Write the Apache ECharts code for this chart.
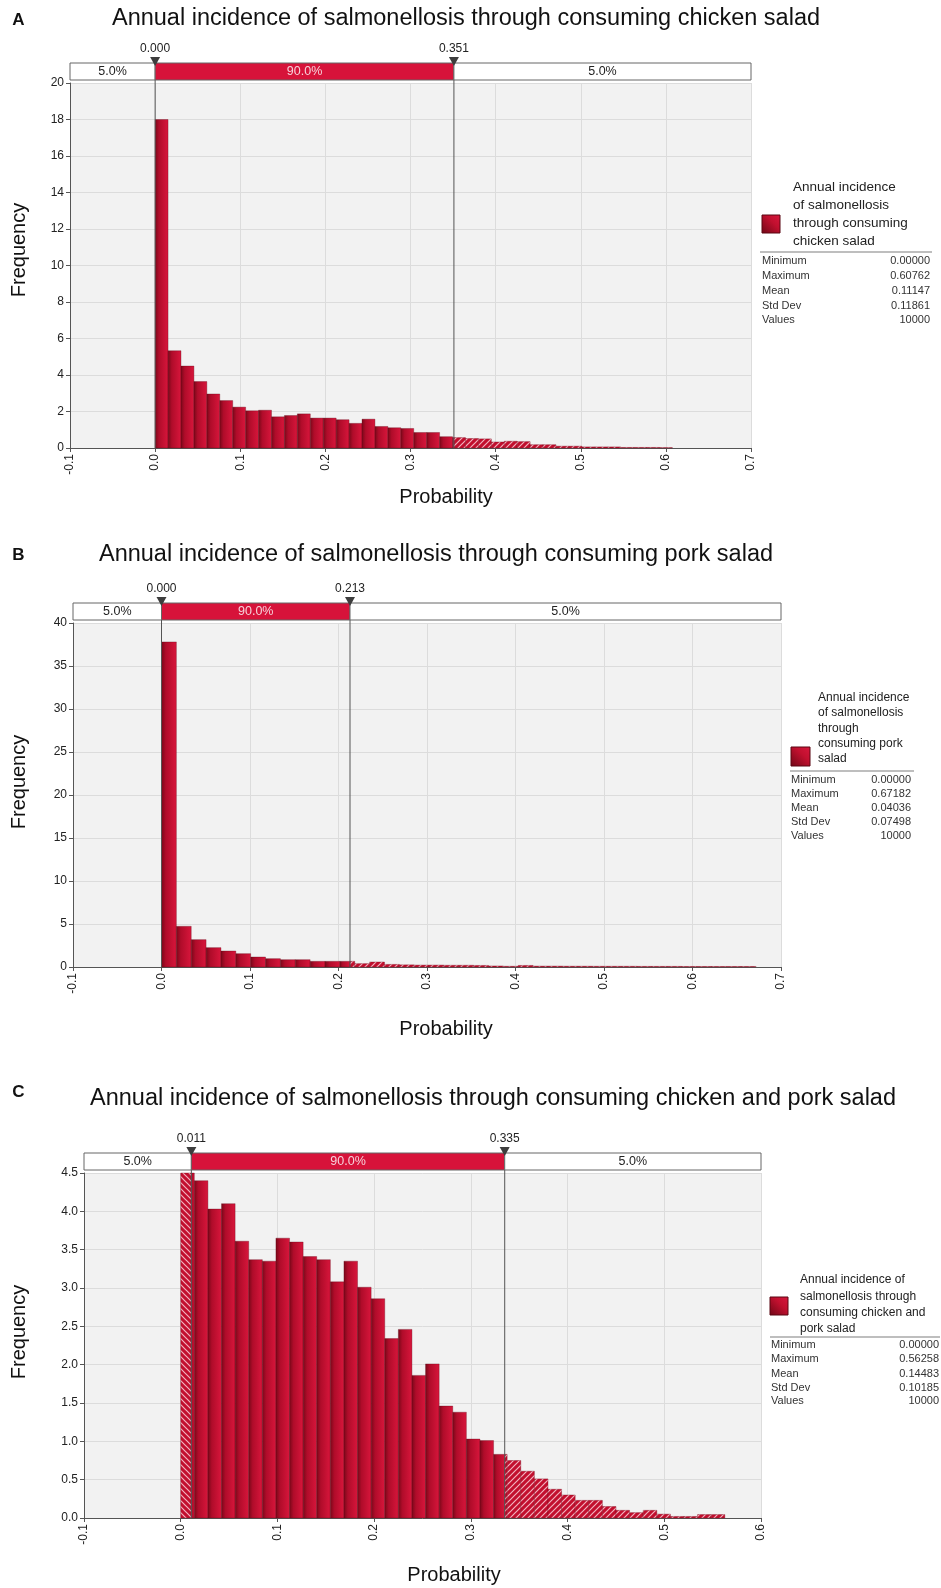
<!DOCTYPE html>
<html><head><meta charset="utf-8">
<script src="https://cdn.jsdelivr.net/npm/echarts@6/dist/echarts.min.js"></script>
<style>html,body{margin:0;padding:0;background:#fff}#c{width:941px;height:1588px}</style>
</head><body><div id="c"></div>
<script>
// ---------------- DATA ----------------
const titleA = 'Annual incidence of salmonellosis through consuming chicken salad';
const titleB = 'Annual incidence of salmonellosis through consuming pork salad';
const titleC = 'Annual incidence of salmonellosis through consuming chicken and pork salad';

// histogram densities, 40 equal bins from min to max
const binsA = [18.0, 5.33, 4.49, 3.64, 2.96, 2.6, 2.24, 2.04, 2.07, 1.71,
               1.78, 1.87, 1.64, 1.64, 1.55, 1.35, 1.58, 1.18, 1.11, 1.07,
               0.85, 0.85, 0.62, 0.57, 0.52, 0.50, 0.33, 0.37, 0.35, 0.18,
               0.18, 0.10, 0.10, 0.06, 0.06, 0.06, 0.03, 0.03, 0.03, 0.02];
const binsB = [37.8, 4.73, 3.18, 2.25, 1.86, 1.55, 1.16, 0.97, 0.85, 0.85,
               0.66, 0.66, 0.66, 0.39, 0.58, 0.30, 0.25, 0.22, 0.22, 0.20,
               0.20, 0.18, 0.12, 0.08, 0.18, 0.10, 0.10, 0.09, 0.09, 0.08,
               0.08, 0.08, 0.07, 0.07, 0.07, 0.06, 0.06, 0.06, 0.06, 0.06];
const binsC = [4.50, 4.40, 4.03, 4.10, 3.61, 3.37, 3.35, 3.65, 3.60, 3.41,
               3.37, 3.08, 3.35, 3.01, 2.86, 2.34, 2.46, 1.86, 2.01, 1.46,
               1.38, 1.03, 1.01, 0.83, 0.75, 0.61, 0.51, 0.375, 0.30, 0.23,
               0.23, 0.15, 0.10, 0.07, 0.10, 0.05, 0.02, 0.02, 0.045, 0.045];

const rangeA = [0.0, 0.60762];
const rangeB = [0.0, 0.67182];
const rangeC = [0.0, 0.56258];

const percA = [0.000, 0.351];
const percB = [0.000, 0.213];
const percC = [0.011, 0.335];

const bandLabelsA = ['5.0%', '90.0%', '5.0%'];
const bandLabelsB = ['5.0%', '90.0%', '5.0%'];
const bandLabelsC = ['5.0%', '90.0%', '5.0%'];

const xTicksA = [-0.1, 0.0, 0.1, 0.2, 0.3, 0.4, 0.5, 0.6, 0.7];
const xTicksB = [-0.1, 0.0, 0.1, 0.2, 0.3, 0.4, 0.5, 0.6, 0.7];
const xTicksC = [-0.1, 0.0, 0.1, 0.2, 0.3, 0.4, 0.5, 0.6];
const yTicksA = [0, 2, 4, 6, 8, 10, 12, 14, 16, 18, 20];
const yTicksB = [0, 5, 10, 15, 20, 25, 30, 35, 40];
const yTicksC = [0.0, 0.5, 1.0, 1.5, 2.0, 2.5, 3.0, 3.5, 4.0, 4.5];
const yDecC = 1;

const statNames = ['Minimum', 'Maximum', 'Mean', 'Std Dev', 'Values'];
const statsA = ['0.00000', '0.60762', '0.11147', '0.11861', '10000'];
const statsB = ['0.00000', '0.67182', '0.04036', '0.07498', '10000'];
const statsC = ['0.00000', '0.56258', '0.14483', '0.10185', '10000'];

const legendA = ['Annual incidence', 'of salmonellosis', 'through consuming', 'chicken salad'];
const legendB = ['Annual incidence', 'of salmonellosis', 'through', 'consuming pork', 'salad'];
const legendC = ['Annual incidence of', 'salmonellosis through', 'consuming chicken and', 'pork salad'];

const letters = ['A', 'B', 'C'];
const xName = 'Probability';
const yName = 'Frequency';

// ---------------- LAYOUT ----------------
const FONT = '"Liberation Sans", Arial, sans-serif';
const layoutA = {grid: {left: 70, top: 83, width: 681, height: 365}, letterY: 20, titleX: 466, titleY: 19,
  freqY: 250, probX: 446, probY: 497,
  leg: {sqX: 762, sqY: 215, sq: 18, tx: 793, ty: [187, 205, 223, 241], fs: 13.5,
        sepY: 252, sepX: [760, 932], sy: [261, 276, 291, 305.5, 320], lx: 762, vx: 930}};
const layoutB = {grid: {left: 73, top: 623, width: 708, height: 344}, letterY: 555, titleX: 436, titleY: 555,
  freqY: 782, probX: 446, probY: 1029,
  leg: {sqX: 791, sqY: 747, sq: 19, tx: 818, ty: [698, 713, 728.5, 743.5, 759], fs: 12,
        sepY: 771, sepX: [790, 914], sy: [780, 794, 807.5, 821.5, 835.5], lx: 791, vx: 911}};
const layoutC = {grid: {left: 84, top: 1173, width: 677, height: 345}, letterY: 1092, titleX: 493, titleY: 1099,
  freqY: 1332, probX: 454, probY: 1575,
  leg: {sqX: 770, sqY: 1297, sq: 18, tx: 800, ty: [1280, 1296.5, 1313, 1328.5], fs: 12,
        sepY: 1337, sepX: [770, 940], sy: [1345, 1359, 1373.5, 1387.5, 1401], lx: 771, vx: 939}};

// ---------------- RENDER ----------------
const chart = echarts.init(document.getElementById('c'), null, {renderer: 'canvas', width: 941, height: 1588});

function hatch(dir) {
  const c = document.createElement('canvas'); c.width = 6; c.height = 6;
  const x = c.getContext('2d');
  x.fillStyle = '#c20f2e'; x.fillRect(0, 0, 6, 6);
  x.strokeStyle = '#f2b3c0'; x.lineWidth = 1.2;
  x.beginPath();
  if (dir > 0) {
    x.moveTo(-1, 7); x.lineTo(7, -1);
    x.moveTo(-4, 4); x.lineTo(4, -4);
    x.moveTo(2, 10); x.lineTo(10, 2);
  } else {
    x.moveTo(-1, -1); x.lineTo(7, 7);
    x.moveTo(-4, 2); x.lineTo(4, 10);
    x.moveTo(2, -4); x.lineTo(10, 4);
  }
  x.stroke();
  return c;
}
const hatchR = hatch(1), hatchL = hatch(-1);
function solidGrad() {
  return new echarts.graphic.LinearGradient(0, 0, 1, 0, [
    {offset: 0, color: '#760818'}, {offset: 0.3, color: '#b00c2a'}, {offset: 1, color: '#d9163c'}]);
}

function barSeries(g, bins, range, perc) {
  const w = (range[1] - range[0]) / bins.length;
  return {
    type: 'custom', xAxisIndex: g, yAxisIndex: g, silent: true, z: 3,
    data: bins.map((v, i) => [range[0] + i * w, v, range[0] + (i + 1) * w]),
    renderItem(params, api) {
      const x0 = api.value(0), v = api.value(1), x1 = api.value(2);
      const segs = [];
      if (x0 < perc[0]) segs.push([x0, Math.min(x1, perc[0]), 'L']);
      const s0 = Math.max(x0, perc[0]), s1 = Math.min(x1, perc[1]);
      if (s1 > s0) segs.push([s0, s1, 'S']);
      if (x1 > perc[1]) segs.push([Math.max(x0, perc[1]), x1, 'R']);
      return {type: 'group', children: segs.map(([a, b, t]) => {
        const p0 = api.coord([a, v]), p1 = api.coord([b, 0]);
        return {type: 'rect', shape: {x: p0[0], y: p0[1], width: p1[0] - p0[0], height: p1[1] - p0[1]},
          style: {fill: t === 'S' ? solidGrad() : {image: t === 'L' ? hatchL : hatchR, repeat: 'repeat'},
                  stroke: t === 'S' ? 'rgba(95,5,20,0.55)' : 'rgba(120,5,25,0.6)', lineWidth: 0.6}};
      })};
    }
  };
}

function bandSeries(g, xTicks, yTicks, perc, labels) {
  return {
    type: 'custom', xAxisIndex: g, yAxisIndex: g, silent: true, z: 6, clip: false,
    data: [[0, 0]],
    renderItem(params, api) {
      const xmin = xTicks[0], xmax = xTicks[xTicks.length - 1], ymax = yTicks[yTicks.length - 1];
      const L = api.coord([xmin, ymax]), R = api.coord([xmax, ymax]);
      const a = api.coord([perc[0], ymax])[0], b = api.coord([perc[1], ymax])[0];
      const bottom = api.coord([xmin, 0])[1];
      const top = L[1];
      const bt = top - 20, bh = 17;
      const ch = [];
      const boxes = [[L[0], a, '#ffffff', '#222', labels[0]], [a, b, '#d7133a', '#f6d2da', labels[1]], [b, R[0], '#ffffff', '#222', labels[2]]];
      boxes.forEach(([x0, x1, fill, tc, txt]) => {
        ch.push({type: 'rect', shape: {x: x0, y: bt, width: x1 - x0, height: bh}, style: {fill: fill, stroke: '#666', lineWidth: 1}});
        ch.push({type: 'text', style: {text: txt, x: (x0 + x1) / 2, y: bt + bh / 2 + 0.5, align: 'center', verticalAlign: 'middle',
          fontSize: 12.5, fontFamily: FONT, fill: tc}});
      });
      [[a, perc[0]], [b, perc[1]]].forEach(([x, p]) => {
        ch.push({type: 'line', shape: {x1: x, y1: bt + bh, x2: x, y2: bottom}, style: {stroke: '#555', lineWidth: 1}});
        ch.push({type: 'polygon', shape: {points: [[x - 5, bt - 6], [x + 5, bt - 6], [x, bt + 3]]}, style: {fill: '#3d3d3d'}});
        ch.push({type: 'text', style: {text: p.toFixed(3), x: x, y: bt - 14, align: 'center', verticalAlign: 'middle',
          fontSize: 12, fontFamily: FONT, fill: '#222'}});
      });
      return {type: 'group', children: ch};
    }
  };
}

function fmtTick(v, dec) {
  if (Math.abs(v) < 1e-9) v = 0;
  return v.toFixed(dec);
}

const grids = [], xAxes = [], yAxes = [], series = [], graphics = [];
const panels = [
  [layoutA, binsA, rangeA, percA, bandLabelsA, xTicksA, yTicksA, 0, titleA, legendA, statsA],
  [layoutB, binsB, rangeB, percB, bandLabelsB, xTicksB, yTicksB, 0, titleB, legendB, statsB],
  [layoutC, binsC, rangeC, percC, bandLabelsC, xTicksC, yTicksC, yDecC, titleC, legendC, statsC]
];
panels.forEach(([lay, bins, range, perc, bl, xt, yt, ydec, title, legend, stats], g) => {
  grids.push(Object.assign({show: true, backgroundColor: '#f2f2f2', borderWidth: 0, containLabel: false}, lay.grid));
  xAxes.push({type: 'value', gridIndex: g, min: xt[0], max: xt[xt.length - 1], interval: xt[1] - xt[0],
    axisLine: {show: true, onZero: false, lineStyle: {color: '#555', width: 1}},
    axisTick: {show: true, length: 4, lineStyle: {color: '#555'}},
    axisLabel: {rotate: 90, fontSize: 12, color: '#222', fontFamily: FONT, margin: 6, formatter: v => fmtTick(v, 1)},
    splitLine: {show: true, lineStyle: {color: '#dcdcdc', width: 1}}});
  yAxes.push({type: 'value', gridIndex: g, min: yt[0], max: yt[yt.length - 1], interval: yt[1] - yt[0],
    axisLine: {show: true, onZero: false, lineStyle: {color: '#555', width: 1}},
    axisTick: {show: true, length: 4, lineStyle: {color: '#555'}},
    axisLabel: {fontSize: 12, color: '#222', fontFamily: FONT, margin: 6, formatter: v => fmtTick(v, ydec)},
    splitLine: {show: true, lineStyle: {color: '#dcdcdc', width: 1}}});
  series.push(barSeries(g, bins, range, perc));
  series.push(bandSeries(g, xt, yt, perc, bl));

  graphics.push({type: 'text', x: 18.5, y: lay.letterY, style: {text: letters[g], align: 'center', verticalAlign: 'middle',
    fontSize: 17, fontWeight: 'bold', fontFamily: FONT, fill: '#111'}});
  graphics.push({type: 'text', x: lay.titleX, y: lay.titleY, style: {text: title, align: 'center', verticalAlign: 'middle',
    fontSize: 23.5, fontFamily: FONT, fill: '#111'}});
  graphics.push({type: 'text', x: 19, y: lay.freqY, rotation: Math.PI / 2, style: {text: yName, align: 'center', verticalAlign: 'middle',
    fontSize: 20, fontFamily: FONT, fill: '#111'}});
  graphics.push({type: 'text', x: lay.probX, y: lay.probY, style: {text: xName, align: 'center', verticalAlign: 'middle',
    fontSize: 20, fontFamily: FONT, fill: '#111'}});
  const lg = lay.leg;
  graphics.push({type: 'rect', shape: {x: lg.sqX, y: lg.sqY, width: lg.sq, height: lg.sq},
    style: {fill: new echarts.graphic.LinearGradient(0, 1, 1, 0, [{offset: 0, color: '#6e0716'}, {offset: 0.6, color: '#c2102f'}, {offset: 1, color: '#d8183e'}]),
            stroke: '#5a0612', lineWidth: 1}});
  legend.forEach((t, i) => graphics.push({type: 'text', x: lg.tx, y: lg.ty[i], style: {text: t, align: 'left', verticalAlign: 'middle',
    fontSize: lg.fs, fontFamily: FONT, fill: '#222'}}));
  graphics.push({type: 'line', shape: {x1: lg.sepX[0], y1: lg.sepY, x2: lg.sepX[1], y2: lg.sepY}, style: {stroke: '#a8a8a8', lineWidth: 1.5}});
  statNames.forEach((n, i) => {
    graphics.push({type: 'text', x: lg.lx, y: lg.sy[i], style: {text: n, align: 'left', verticalAlign: 'middle',
      fontSize: 11, fontFamily: FONT, fill: '#333'}});
    graphics.push({type: 'text', x: lg.vx, y: lg.sy[i], style: {text: stats[i], align: 'right', verticalAlign: 'middle',
      fontSize: 11, fontFamily: FONT, fill: '#333'}});
  });
});

chart.setOption({
  animation: false,
  backgroundColor: '#ffffff',
  grid: grids, xAxis: xAxes, yAxis: yAxes, series: series,
  graphic: graphics
});
</script></body></html>
